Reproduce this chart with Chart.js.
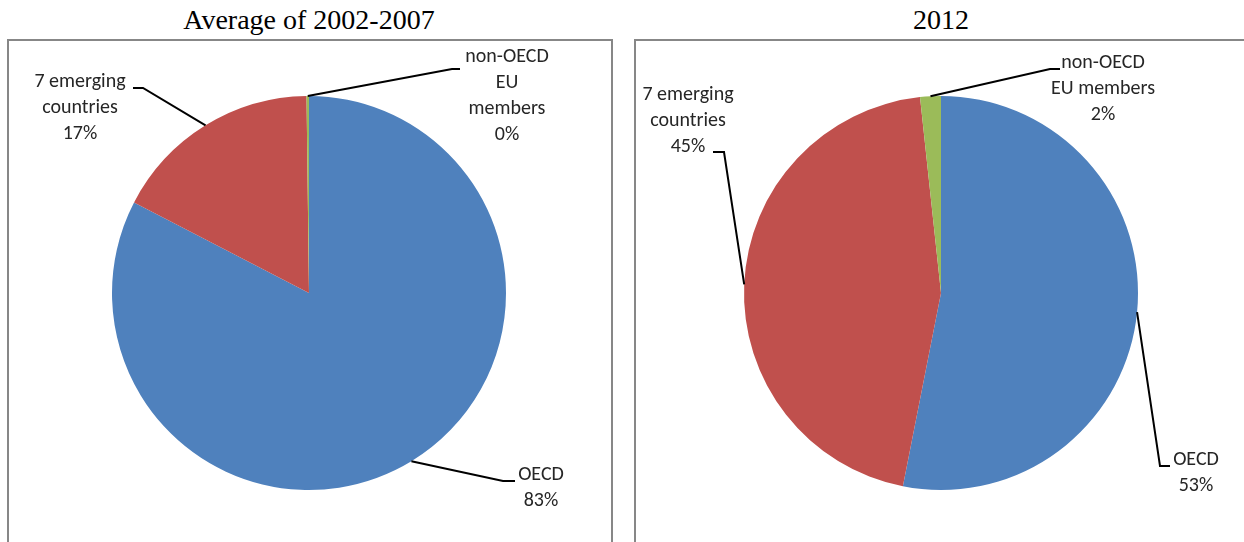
<!DOCTYPE html>
<html>
<head>
<meta charset="utf-8">
<script src="https://cdn.jsdelivr.net/npm/chart.js@4.4.0/dist/chart.umd.min.js"></script>
<style>
    body { margin: 0; background: #fff; }
    #page { position: relative; width: 1244px; height: 542px; overflow: hidden; }
    .title { position: absolute; top: 4px; width: 600px; text-align: center; font: 28px "Liberation Serif", "Times New Roman", serif; color: #000; }
    .box { position: absolute; top: 39px; height: 540px; border: 2px solid #878787; box-sizing: border-box; }
    canvas { position: absolute; top: 0; }
</style>
</head>
<body>
<div id="page">
    <div class="title" style="left: 9px;">Average of 2002-2007</div>
    <div class="title" style="left: 641px;">2012</div>
    <div class="box" style="left: 7px; width: 606px;"></div>
    <div class="box" style="left: 634px; width: 620px;"></div>
    <canvas id="pieAvg" width="622" height="542" style="left: 0;"></canvas>
    <canvas id="pie2012" width="622" height="542" style="left: 622px;"></canvas>
</div>
<script>
// categories (multi-line, the way they are wrapped next to each pie)
var labelsAvg = [['OECD'], ['7 emerging', 'countries'], ['non-OECD', 'EU', 'members']];
var labels2012 = [['OECD'], ['7 emerging', 'countries'], ['non-OECD', 'EU members']];

// shares in percent
var valuesAvg = [82.6, 17.2, 0.2];
var values2012 = [53.1, 45.2, 1.7];

var sliceColors = ['#4F81BD', '#C0504D', '#9BBB59'];

// where each label sits, relative to the pie centre:
// tx/ty = text centre and first line, ex/ey = elbow of the leader, hx = end of the short flat part
var layoutAvg = [
    { tx: 232, ty: 182, ex: 194, ey: 188, hx: 206 },
    { tx: -229, ty: -211, ex: -166, ey: -205, hx: -176 },
    { tx: 198, ty: -236, ex: 143, ey: -224, hx: 151 }
];
var layout2012 = [
    { tx: 255, ty: 167, ex: 219, ey: 173, hx: 229 },
    { tx: -253, ty: -198, ex: -217, ey: -141, hx: -228 },
    { tx: 162, ty: -230, ex: 109, ey: -224, hx: 119 }
];

// draws the labels + leader lines like excel does
var leaderLabels = {
    id: 'leaderLabels',
    afterDatasetsDraw: function (chart, args, opts) {
        var ctx = chart.ctx;
        var meta = chart.getDatasetMeta(0);
        var data = chart.data.datasets[0].data;
        var total = data.reduce(function (a, b) { return a + b; }, 0);

        ctx.save();
        ctx.font = '20px Carlito, Lato, sans-serif';
        ctx.textAlign = 'center';
        ctx.textBaseline = 'middle';

        meta.data.forEach(function (arc, i) {
            var p = arc.getProps(['x', 'y', 'startAngle', 'endAngle', 'outerRadius'], true);
            var mid = (p.startAngle + p.endAngle) / 2;
            var ax = p.x + Math.cos(mid) * p.outerRadius;
            var ay = p.y + Math.sin(mid) * p.outerRadius;
            var lay = opts.layout[i];

            // leader line
            ctx.strokeStyle = '#000';
            ctx.lineWidth = 2;
            ctx.beginPath();
            ctx.moveTo(ax, ay);
            ctx.lineTo(p.x + lay.ex, p.y + lay.ey);
            ctx.lineTo(p.x + lay.hx, p.y + lay.ey);
            ctx.stroke();

            // text
            var lines = chart.data.labels[i].concat([Math.round(data[i] / total * 100) + '%']);
            ctx.fillStyle = '#262626';
            lines.forEach(function (line, k) {
                ctx.fillText(line, p.x + lay.tx, p.y + lay.ty + k * 26);
            });
        });
        ctx.restore();
    }
};

function makePie(id, labels, values, layout, pad) {
    return new Chart(document.getElementById(id), {
        type: 'pie',
        data: {
            labels: labels,
            datasets: [{
                data: values,
                backgroundColor: sliceColors,
                borderWidth: 0,
                hoverOffset: 0
            }]
        },
        options: {
            responsive: false,
            animation: false,
            events: [],
            layout: { padding: pad },
            plugins: {
                legend: { display: false },
                tooltip: { enabled: false },
                leaderLabels: { layout: layout }
            }
        },
        plugins: [leaderLabels]
    });
}

// chart area = square around each pie (394px across)
makePie('pieAvg', labelsAvg, valuesAvg, layoutAvg, { left: 112, right: 116, top: 96, bottom: 52 });
makePie('pie2012', labels2012, values2012, layout2012, { left: 122, right: 106, top: 96, bottom: 52 });
</script>
</body>
</html>
